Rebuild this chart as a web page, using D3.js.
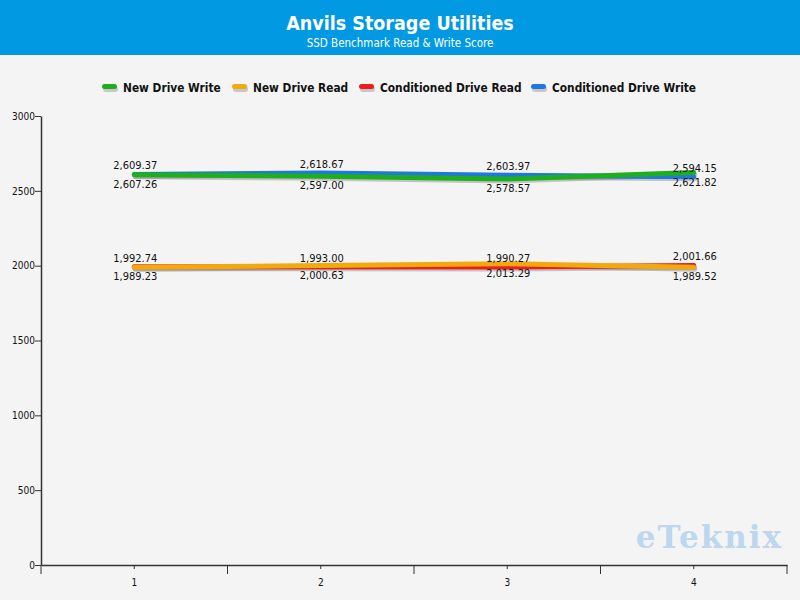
<!DOCTYPE html>
<html><head><meta charset="utf-8">
<script src="https://cdn.jsdelivr.net/npm/d3@7"></script>
<style>body{margin:0;background:#f4f4f4;}svg{display:block;}</style>
</head><body>
<script>
const categories = ["1","2","3","4"];
const seriesNames = ["New Drive Write","New Drive Read","Conditioned Drive Read","Conditioned Drive Write"];
const seriesColors = ["#1fae1f","#f2a90c","#ee1c1c","#1f77e0"];
const newDriveWrite = [2607.26, 2597.00, 2578.57, 2621.82];
const newDriveRead = [1989.23, 2000.63, 2013.29, 1989.52];
const conditionedDriveRead = [1992.74, 1993.00, 1990.27, 2001.66];
const conditionedDriveWrite = [2609.37, 2618.67, 2603.97, 2594.15];
const labelSide = ["below","below","above","above"];
const yTicks = [0,500,1000,1500,2000,2500,3000];
const title = "Anvils Storage Utilities";
const subtitle = "SSD Benchmark Read & Write Score";

const seriesValues = [newDriveWrite, newDriveRead, conditionedDriveRead, conditionedDriveWrite];
const W = 800, H = 600;
const svg = d3.select("body").append("svg").attr("width", W).attr("height", H);
svg.append("rect").attr("width", W).attr("height", H).attr("fill", "#f4f4f4");
svg.append("rect").attr("width", W).attr("height", 55).attr("fill", "#0299e3");
svg.append("text").attr("x", 400).attr("y", 30).attr("text-anchor","middle")
  .attr("font-family","'DejaVu Sans Condensed','DejaVu Sans',sans-serif").attr("font-weight","bold")
  .attr("font-size", 19.5).attr("fill","#fff").text(title);
svg.append("text").attr("x", 400).attr("y", 46.5).attr("text-anchor","middle")
  .attr("font-family","'DejaVu Sans Condensed','DejaVu Sans',sans-serif")
  .attr("font-size", 11.5).attr("fill","#fff").text(subtitle);

// legend
const legendX = [102, 232, 359, 531];
const lg = svg.append("g");
seriesNames.forEach((n,i)=>{
  const g = lg.append("g").attr("transform",`translate(${legendX[i]},87)`);
  g.append("rect").attr("x",1).attr("y",-1).attr("width",15).attr("height",6).attr("rx",3).attr("fill","#999").attr("opacity",0.5);
  g.append("rect").attr("x",0).attr("y",-3).attr("width",15).attr("height",5).attr("rx",2.5).attr("fill",seriesColors[i]);
  g.append("text").attr("x",21).attr("y",4.5)
    .attr("font-family","'DejaVu Sans Condensed','DejaVu Sans',sans-serif").attr("font-weight","bold")
    .attr("font-size",11.8).attr("fill","#111").text(n);
});

const pLeft = 41, pRight = 787, pTop = 116, pBottom = 565;
const x = d3.scaleBand().domain(categories).range([pLeft, pRight]);
const y = d3.scaleLinear().domain([0,3000]).range([pBottom, pTop]);
const cx = c => x(c) + x.bandwidth()/2;

// watermark
svg.append("text").attr("x", 783).attr("y", 548).attr("text-anchor","end")
  .attr("font-family","'DejaVu Serif',serif").attr("font-weight","bold")
  .attr("font-size", 31).attr("fill","#bcd7ee").attr("letter-spacing", 2).text("eTeknix");

// y axis
const ya = svg.append("g").attr("transform",`translate(${pLeft},0)`)
  .call(d3.axisLeft(y).tickValues(yTicks).tickSize(6).tickSizeOuter(0).tickFormat(d3.format("d")));
ya.select(".domain").attr("stroke","#333").attr("stroke-width",1.5);
ya.selectAll(".tick line").attr("stroke","#333");
ya.selectAll(".tick text").attr("font-family","'DejaVu Sans Condensed','DejaVu Sans',sans-serif").attr("font-size",10).attr("fill","#111").attr("x",-6);

// x axis
const xa = svg.append("g").attr("transform",`translate(0,${pBottom})`)
  .call(d3.axisBottom(x).tickSize(4).tickSizeOuter(0));
xa.select(".domain").attr("stroke","#333").attr("stroke-width",1.5);
xa.selectAll(".tick line").attr("stroke","#333");
xa.selectAll(".tick text").attr("font-family","'DejaVu Sans Condensed','DejaVu Sans',sans-serif").attr("font-size",10).attr("fill","#111").attr("y",14);
const bounds = categories.map(c => x(c)).concat([x.range()[1]]);
xa.selectAll(".bnd").data(bounds).enter().append("line").attr("class","bnd")
  .attr("x1",d=>d).attr("x2",d=>d).attr("y1",0).attr("y2",9).attr("stroke","#333");

// lines
const line = d3.line().x((d,i)=>cx(categories[i])).y(d=>y(d));
const drawOrder = [3,0,2,1];
drawOrder.forEach(i=>{
  svg.append("path").attr("d", line(seriesValues[i])).attr("transform","translate(1,2)")
    .attr("fill","none").attr("stroke","#888").attr("stroke-opacity",0.45).attr("stroke-width",5).attr("stroke-linecap","round");
});
drawOrder.forEach(i=>{
  svg.append("path").attr("d", line(seriesValues[i]))
    .attr("fill","none").attr("stroke",seriesColors[i]).attr("stroke-width",5).attr("stroke-linecap","round");
});

// labels
const fmt = d3.format(",.2f");
seriesValues.forEach((vals,i)=>{
  svg.append("g").selectAll("text").data(vals).enter().append("text")
    .attr("x",(d,j)=>cx(categories[j]) + 1)
    .attr("y",d=> labelSide[i]==="above" ? y(d)-5 : y(d)+13)
    .attr("text-anchor","middle")
    .attr("font-family","'DejaVu Sans Condensed','DejaVu Sans',sans-serif")
    .attr("font-size",11).attr("fill","#111").text(d=>fmt(d));
});
</script>
</body></html>
